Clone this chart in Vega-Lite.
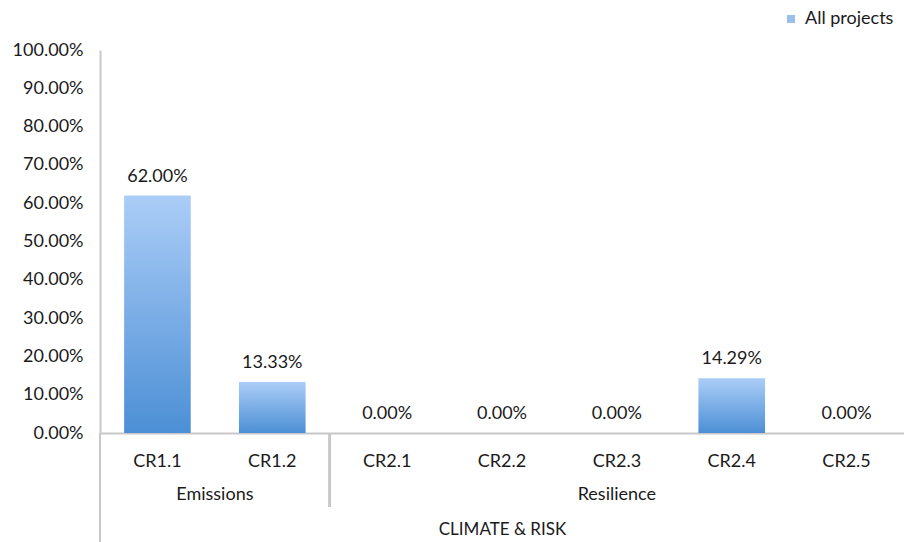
{
  "$schema": "https://vega.github.io/schema/vega-lite/v6.json",
  "width": 804,
  "height": 383,
  "autosize": {"type": "none"},
  "padding": {"left": 100, "top": 50, "right": 0, "bottom": 109},
  "background": "white",
  "config": {
    "view": {"stroke": null},
    "font": "Lato",
    "text": {"font": "Lato", "fontSize": 18, "color": "#1a1a1a"},
    "axis": {
      "grid": false,
      "ticks": false,
      "labelFont": "Lato",
      "labelFontSize": 18,
      "labelColor": "#1a1a1a",
      "domainColor": "#c8c8c8",
      "domainWidth": 2,
      "titleFont": "Lato",
      "titleFontWeight": "normal",
      "titleColor": "#1a1a1a"
    },
    "axisY": {"labelOverlap": false, "labelPadding": 17},
    "axisX": {"labelAngle": 0, "labelPadding": 19, "titleFontSize": 17, "titlePadding": 51}
  },
  "datasets": {
    "scores": [
      {"code": "CR1.1", "theme": "Emissions", "share": 0.62},
      {"code": "CR1.2", "theme": "Emissions", "share": 0.1333},
      {"code": "CR2.1", "theme": "Resilience", "share": 0.0},
      {"code": "CR2.2", "theme": "Resilience", "share": 0.0},
      {"code": "CR2.3", "theme": "Resilience", "share": 0.0},
      {"code": "CR2.4", "theme": "Resilience", "share": 0.1429},
      {"code": "CR2.5", "theme": "Resilience", "share": 0.0}
    ],
    "themes": [
      {"theme": "Emissions", "anchor": "CR1.1"},
      {"theme": "Resilience", "anchor": "CR2.3"}
    ]
  },
  "data": {"name": "scores"},
  "resolve": {"scale": {"y": "independent"}, "axis": {"y": "independent"}},
  "layer": [
    {
      "mark": {
        "type": "bar",
        "width": {"band": 0.58},
        "fill": {
          "gradient": "linear",
          "x1": 0, "y1": 0, "x2": 0, "y2": 1,
          "stops": [
            {"offset": 0, "color": "#abcdf7"},
            {"offset": 1, "color": "#4c8fd5"}
          ]
        }
      },
      "encoding": {
        "x": {
          "field": "code",
          "type": "nominal",
          "sort": null,
          "scale": {"domain": ["CR1.1", "CR1.2", "CR2.1", "CR2.2", "CR2.3", "CR2.4", "CR2.5"], "padding": 0},
          "axis": {"title": "CLIMATE & RISK"}
        },
        "y": {
          "field": "share",
          "type": "quantitative",
          "scale": {"domain": [0, 1]},
          "axis": {
            "title": null,
            "format": ".2%",
            "values": [0, 0.1, 0.2, 0.3, 0.4, 0.5, 0.6, 0.7, 0.8, 0.9, 1],
            "labelOverlap": false
          }
        }
      }
    },
    {
      "mark": {"type": "text", "baseline": "bottom", "dy": -10},
      "encoding": {
        "x": {"field": "code", "type": "nominal", "sort": null},
        "y": {"field": "share", "type": "quantitative", "scale": {"domain": [0, 1]}, "axis": null},
        "text": {"field": "share", "type": "quantitative", "format": ".2%"}
      }
    },
    {
      "mark": {"type": "rule", "color": "#c8c8c8", "strokeWidth": 2},
      "encoding": {
        "x": {"datum": "CR1.1", "type": "nominal", "bandPosition": 0},
        "y": {"datum": 0, "type": "quantitative", "scale": {"domain": [0, 1]}, "axis": null},
        "y2": {"datum": -0.285}
      }
    },
    {
      "mark": {"type": "rule", "color": "#c8c8c8", "strokeWidth": 2},
      "encoding": {
        "x": {"datum": "CR2.1", "type": "nominal", "bandPosition": 0},
        "y": {"datum": 0, "type": "quantitative", "scale": {"domain": [0, 1]}, "axis": null},
        "y2": {"datum": -0.193}
      }
    },
    {
      "data": {"name": "themes"},
      "transform": [{"filter": "datum.theme === 'Emissions'"}],
      "mark": {"type": "text", "baseline": "middle"},
      "encoding": {
        "x": {"field": "anchor", "type": "nominal", "bandPosition": 1},
        "y": {"datum": -0.163, "type": "quantitative", "scale": {"domain": [0, 1]}, "axis": null},
        "text": {"field": "theme"}
      }
    },
    {
      "data": {"name": "themes"},
      "transform": [{"filter": "datum.theme === 'Resilience'"}],
      "mark": {"type": "text", "baseline": "middle"},
      "encoding": {
        "x": {"field": "anchor", "type": "nominal", "bandPosition": 0.5},
        "y": {"datum": -0.163, "type": "quantitative", "scale": {"domain": [0, 1]}, "axis": null},
        "text": {"field": "theme"}
      }
    },
    {
      "transform": [{"filter": "datum.share > 1"}],
      "mark": {"type": "square"},
      "encoding": {
        "x": {"field": "code", "type": "nominal", "sort": null},
        "y": {"field": "share", "type": "quantitative", "scale": {"domain": [0, 1]}, "axis": null},
        "color": {
          "datum": "All projects",
          "type": "nominal",
          "scale": {"range": ["#6ea5e4"]},
          "legend": {
            "title": null,
            "orient": "none",
            "legendX": 682,
            "legendY": -40,
            "symbolType": "square",
            "symbolSize": 64,
            "symbolStrokeWidth": 0,
            "labelFont": "Lato",
            "labelFontSize": 18,
            "labelColor": "#1a1a1a",
            "labelOffset": 5
          }
        }
      }
    }
  ]
}
